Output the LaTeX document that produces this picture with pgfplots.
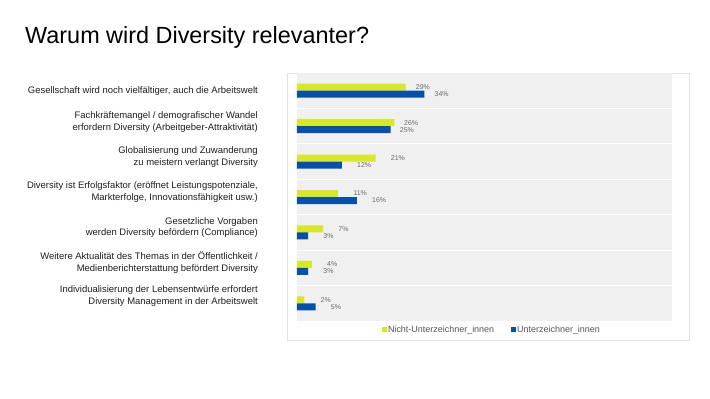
\documentclass[border=0pt]{standalone}
\usepackage{pgfplots}
\usepackage{pgfplotstable}
\pgfplotsset{compat=1.18}
\usepackage{fontspec}
\setmainfont{Liberation Sans}
\definecolor{ylw}{HTML}{D7E82C}
\definecolor{blu}{HTML}{0650A8}
\definecolor{bg}{HTML}{F0F0F0}
\definecolor{framec}{HTML}{E2E2E2}
\definecolor{lbl}{HTML}{6A6A6A}
\definecolor{leg}{HTML}{555555}
\definecolor{txt}{HTML}{1E1E1E}
\pgfplotstableread{
y x s
6 29 10
5 26 9.5
4 21 15
3 11 15
2 7 15
1 4 15
0 2 16
}\ylwdata
\pgfplotstableread{
y x s
6 34 10
5 25 9
4 12 15
3 16 15
2 3 15
1 3 15
0 5 15
}\bludata
\begin{document}
\begin{tikzpicture}
\path (-297bp,-78bp) rectangle (413bp,321bp);
\node[anchor=base west, inner sep=0pt, font=\fontsize{23.5}{27}\selectfont, text=black] at (-272bp,277bp) {Warum wird Diversity relevanter?};
\draw[framec, line width=0.7bp] (-10bp,-19bp) rectangle (392bp,248bp);
\begin{axis}[
  at={(0,0)}, anchor=south west, scale only axis,
  width=375bp, height=248bp,
  xbar, bar width=7bp,
  xmin=0, xmax=100, ymin=-0.5, ymax=6.5,
  axis line style={draw=none},
  axis background/.style={fill=bg},
  xtick=\empty,
  ytick={0.2,1.14,2.14,3.13,4.12,5.12,6.0},
  yticklabels={
    {Individualisierung der Lebensentwürfe erfordert\\Diversity Management in der Arbeitswelt},
    {Weitere Aktualität des Themas in der Öffentlichkeit /\\Medienberichterstattung befördert Diversity},
    {Gesetzliche Vorgaben\\werden Diversity befördern (Compliance)},
    {Diversity ist Erfolgsfaktor (eröffnet Leistungspotenziale,\\Markterfolge, Innovationsfähigkeit usw.)},
    {Globalisierung und Zuwanderung\\zu meistern verlangt Diversity},
    {Fachkräftemangel / demografischer Wandel\\erfordern Diversity (Arbeitgeber-Attraktivität)},
    {Gesellschaft wird noch vielfältiger, auch die Arbeitswelt}
  },
  yticklabel style={align=right, inner sep=0pt, xshift=-39bp, text=txt, font=\fontsize{9.5}{11.8}\selectfont},
  major tick length=0pt,
  extra y ticks={0.5,1.5,2.5,3.5,4.5,5.5},
  extra y tick labels={},
  extra y tick style={grid=major, major grid style={white, line width=1.2bp}, major tick length=0pt},
  /pgf/number format/assume math mode=true,
  nodes near coords={\pgfmathprintnumber{\pgfplotspointmeta}\%},
  nodes near coords style={anchor=west, inner sep=0pt, xshift=\myshift bp, text=lbl, font=\fontsize{7}{8}\selectfont},
  visualization depends on={\thisrow{s} \as \myshift},
  legend style={at={(0.5,0)}, anchor=north, xshift=7bp, yshift=-1bp, draw=none, fill=none,
    legend columns=2, font=\fontsize{9}{10}\selectfont, text=leg,
    /tikz/every even column/.append style={column sep=15bp},
    nodes={inner sep=1.5bp}},
]
\addplot[fill=ylw, draw=none, bar shift=3.5bp,
  legend image code/.code={\fill[ylw] (0bp,-2.5bp) rectangle (5bp,2.5bp);}]
  table[x=x, y=y] {\ylwdata};
\addlegendentry{Nicht-Unterzeichner\_innen}
\addplot[fill=blu, draw=none, bar shift=-3.5bp,
  legend image code/.code={\fill[blu] (0bp,-2.5bp) rectangle (5bp,2.5bp);}]
  table[x=x, y=y] {\bludata};
\addlegendentry{Unterzeichner\_innen}
\end{axis}
\end{tikzpicture}
\end{document}
